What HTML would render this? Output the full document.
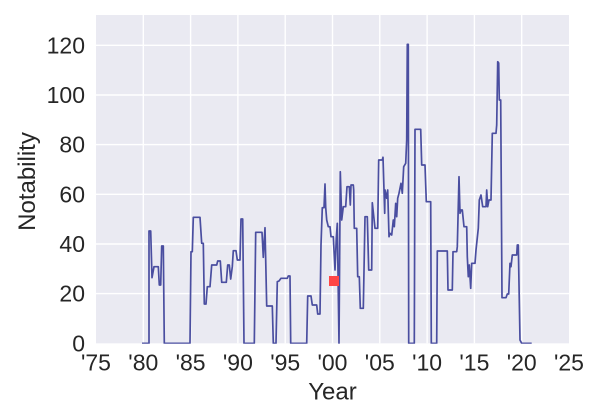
<!DOCTYPE html>
<html>
<head>
<meta charset="utf-8">
<style>
html,body{margin:0;padding:0;background:#fff;}
svg{display:block;}
text{font-family:"Liberation Sans",Arial,sans-serif;fill:#262626;}
</style>
</head>
<body>
<svg width="600" height="420" viewBox="0 0 600 420" xmlns="http://www.w3.org/2000/svg">
  <rect x="96" y="15" width="473" height="328.3" fill="#EAEAF2"/>
  <g stroke="#ffffff" stroke-width="1.4">
    <line x1="96" y1="293.6" x2="569" y2="293.6"/>
    <line x1="96" y1="244" x2="569" y2="244"/>
    <line x1="96" y1="194.3" x2="569" y2="194.3"/>
    <line x1="96" y1="144.6" x2="569" y2="144.6"/>
    <line x1="96" y1="95" x2="569" y2="95"/>
    <line x1="96" y1="45.3" x2="569" y2="45.3"/>
    <line x1="143.3" y1="15" x2="143.3" y2="343.3"/>
    <line x1="190.6" y1="15" x2="190.6" y2="343.3"/>
    <line x1="237.9" y1="15" x2="237.9" y2="343.3"/>
    <line x1="285.2" y1="15" x2="285.2" y2="343.3"/>
    <line x1="332.5" y1="15" x2="332.5" y2="343.3"/>
    <line x1="379.8" y1="15" x2="379.8" y2="343.3"/>
    <line x1="427.1" y1="15" x2="427.1" y2="343.3"/>
    <line x1="474.4" y1="15" x2="474.4" y2="343.3"/>
    <line x1="521.7" y1="15" x2="521.7" y2="343.3"/>
  </g>
  <defs><clipPath id="c"><rect x="96" y="15" width="473" height="328.8"/></clipPath></defs>
  <polyline clip-path="url(#c)" fill="none" stroke="#4a4ea0" stroke-width="1.7" stroke-linejoin="round" points="
142,343.3 149,343.3 149,231 150.7,231 152,277.7 154,266.7 158.3,266.7 159.3,285 160.7,285 161.7,246 163.3,246 164.3,343.3
190,343.3 191,251.7 192.3,251.7 193.3,217.3 200,217.3 201.7,243.3 203.3,243.3 204.3,304 206,304 207.3,286.7 210,286.7
211.7,265 216.7,265 217.7,261 220.3,261 221.7,282.3 226.3,282.3 227.7,265 229.3,265 230.7,279 232.3,266.7 233.3,250.7
236,250.7 237.3,260 240,260 241,219 242.7,219 244,343.3 254.3,343.3 255.7,232.3 262,232.3 263.3,257.3 265,227.7
266.7,306 272.3,306 273.3,343.3 276,343.3 277.3,281.7 279,281 281,278.3 287.3,278.3 288.3,276 290,276 290.7,343.3
306.7,343.3 307.7,296 311,296 312.3,305 316.7,305 317.7,314 320,314 321,245 322.3,207.7 324,207.7 325,184 325.7,207.3
326.7,220 328.3,226.7 330,226.7 331,236.7 333.3,236.7 335,270 336.3,238.3 337.3,223.3 339,343.3 340.3,171.7 341.7,220
343.3,206.7 345.7,206.7 347,186.7 349.3,186.7 350.3,205 351,185 353.3,185 353.7,190 354.3,228.3 356.7,228.3 357.7,276.7
359.3,276.7 360.3,308.3 363.3,308.3 365,216.7 367.3,216.7 368.7,270 371.7,270 372.3,202.7 375,228.3 377.7,228.3
378.7,160 382.3,160 383,157.3 384.7,213.3 385,190 386.7,198.3 387.7,190 389,236.7 390,233.3 391.7,235 393.3,220
394.3,226.7 395.7,203.3 396.7,216.7 397.7,198.3 399,193.3 401,183.3 402.3,193.3 403.7,166.7 405.7,163.3 406.7,140
407.3,44.3 408.3,44.3 408.7,343.3 414.3,343.3 415,129.3 420.7,129.3 421.7,165 425,165 426.3,201.7 430.7,201.7
431.3,343.3 436.7,343.3 437.3,251 447.3,251 448,290 452.3,290 453,251.7 456.7,251.7 457.3,246.7 459,176.7 460,213.3
461,210 462.3,210 464,226.7 466.7,226.7 467.3,256.7 468.3,276.7 469.3,265 470.7,288.3 471.7,263.3 475,263.3 476,250
478.3,228.3 479.3,200 481,195 482.7,206.7 486,206.7 486.7,190 487.7,206.7 489,200 491,200 492.3,133.3 496,133.3
496.7,125 497.7,61.7 498.7,63 499.3,100 500.7,100 502,297.7 506,297.7 507.3,294 508.7,294 510,263.3 511,266.7
512.3,255 516.7,255 517.3,245 518.3,245 520,340 521.7,343.3 531.7,343.3"/>
  <rect x="329" y="276" width="10" height="10" fill="#ff4646"/>
  <g font-size="23" text-anchor="end">
    <text x="85" y="351.3">0</text>
    <text x="85" y="301.6">20</text>
    <text x="85" y="252">40</text>
    <text x="85" y="202.3">60</text>
    <text x="85" y="152.6">80</text>
    <text x="85" y="103">100</text>
    <text x="85" y="53.3">120</text>
  </g>
  <g font-size="23" text-anchor="middle">
    <text x="96" y="370.7">'75</text>
    <text x="143.3" y="370.7">'80</text>
    <text x="190.6" y="370.7">'85</text>
    <text x="237.9" y="370.7">'90</text>
    <text x="285.2" y="370.7">'95</text>
    <text x="332.5" y="370.7">'00</text>
    <text x="379.8" y="370.7">'05</text>
    <text x="427.1" y="370.7">'10</text>
    <text x="474.4" y="370.7">'15</text>
    <text x="521.7" y="370.7">'20</text>
    <text x="569" y="370.7">'25</text>
  </g>
  <text x="332.5" y="399.3" font-size="24" text-anchor="middle">Year</text>
  <text x="35" y="181.5" font-size="24" text-anchor="middle" transform="rotate(-90 35 181.5)">Notability</text>
</svg>
</body>
</html>
